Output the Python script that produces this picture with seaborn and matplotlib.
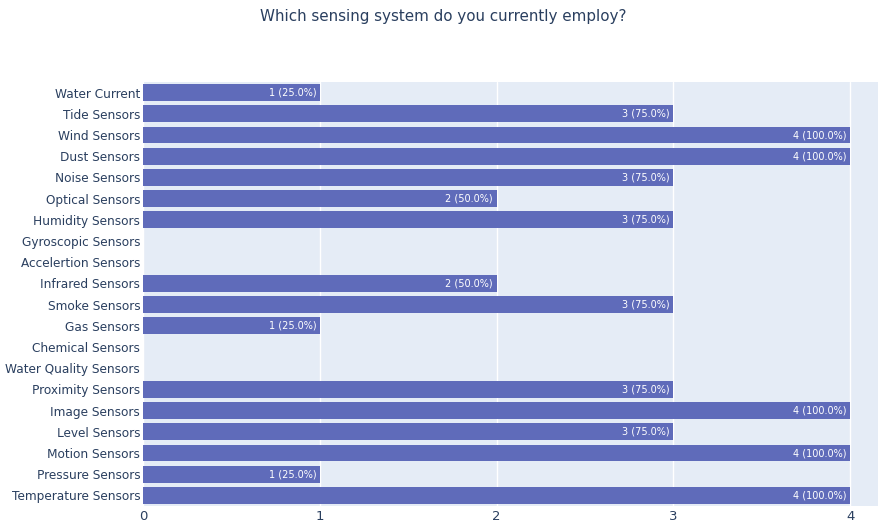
import matplotlib
matplotlib.use("Agg")
import matplotlib.pyplot as plt
import seaborn as sns
import pandas as pd

categories = [
    "Water Current", "Tide Sensors", "Wind Sensors", "Dust Sensors",
    "Noise Sensors", "Optical Sensors", "Humidity Sensors", "Gyroscopic Sensors",
    "Accelertion Sensors", "Infrared Sensors", "Smoke Sensors", "Gas Sensors",
    "Chemical Sensors", "Water Quality Sensors", "Proximity Sensors",
    "Image Sensors", "Level Sensors", "Motion Sensors", "Pressure Sensors",
    "Temperature Sensors",
]
counts = [1, 3, 4, 4, 3, 2, 3, 0, 0, 2, 3, 1, 0, 0, 3, 4, 3, 4, 1, 4]
respondents = 4
x_ticks = [0, 1, 2, 3, 4]
title = "Which sensing system do you currently employ?"

df = pd.DataFrame({"category": categories, "count": counts})

sns.set_theme(style="white")
plt.rcParams["font.family"] = ["DejaVu Sans"]

text_color = "#2a3f5f"
fig = plt.figure(figsize=(8.86, 5.24), dpi=100)
ax = fig.add_axes([143 / 886, 18 / 524, (878 - 143) / 886, (506 - 82) / 524])
ax.set_facecolor("#e5ecf6")

sns.barplot(data=df, x="count", y="category", order=categories, color="#5f6bba",
            saturation=1, width=0.8, linewidth=0, ax=ax)

for i, v in enumerate(counts):
    if v > 0:
        ax.text(v - 0.02, i, f"{v} ({v / respondents * 100:.1f}%)", ha="right",
                va="center", color="white", fontsize=7)

ax.set_xlim(0, 4.158)
ax.set_ylim(len(categories) - 0.5, -0.5)
ax.set_xticks(x_ticks)
ax.set_xticklabels([str(t) for t in x_ticks])
ax.xaxis.grid(True, color="white", linewidth=1)
ax.yaxis.grid(False)
ax.set_axisbelow(True)
for s in ax.spines.values():
    s.set_visible(False)
ax.set_xlabel("")
ax.set_ylabel("")
ax.tick_params(axis="both", length=0, colors=text_color)
ax.tick_params(axis="y", pad=2, labelsize=8.7)
ax.tick_params(axis="x", pad=3, labelsize=9.5)
for lbl in ax.get_xticklabels() + ax.get_yticklabels():
    lbl.set_color(text_color)

fig.text(0.5, 1 - 17 / 524, title, ha="center", va="center", color=text_color,
         fontsize=10.9)

fig.savefig("out.png", dpi=100, facecolor="white")
